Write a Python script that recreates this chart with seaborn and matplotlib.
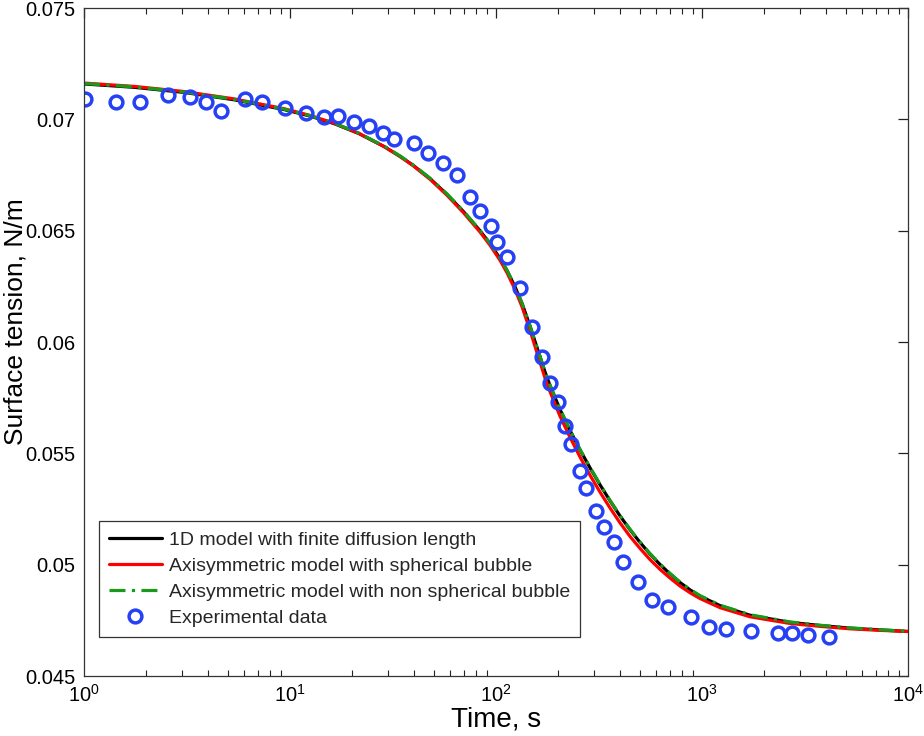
import numpy as np
import matplotlib
matplotlib.use("Agg")
import matplotlib.pyplot as plt
import seaborn as sns

# ---------------- Data ----------------
# model curves, time in s, surface tension in N/m
t_model = [1.000, 1.749, 3.058, 5.349, 9.352, 12.37, 16.35, 21.62, 28.60, 34.20,
           39.55, 47.82, 57.83, 69.16, 83.62, 93.51, 104.6, 113.1, 123.7, 133.8,
           146.2, 154.6, 163.6, 172.9, 182.9, 204.5, 228.7, 255.7, 286.0, 319.8,
           357.6, 399.9, 447.2, 500.1, 559.2, 625.4, 699.2, 782.0, 874.4, 977.9,
           1223, 1710, 2674, 3740, 5229, 7313, 10000]
st_1d = [0.07159, 0.07144, 0.07121, 0.07088, 0.07044, 0.07016, 0.06981, 0.06936, 0.06878, 0.06834,
         0.06794, 0.06734, 0.06663, 0.06588, 0.06500, 0.06442, 0.06375, 0.06321, 0.06248, 0.06173,
         0.06072, 0.06003, 0.05934, 0.05866, 0.05805, 0.05697, 0.05603, 0.05516, 0.05435, 0.05359,
         0.05287, 0.05219, 0.05157, 0.05100, 0.05048, 0.05001, 0.04959, 0.04920, 0.04887, 0.04859,
         0.04816, 0.04773, 0.04741, 0.04727, 0.04715, 0.04707, 0.04700]
st_sph = [0.07163, 0.07148, 0.07125, 0.07092, 0.07048, 0.07019, 0.06983, 0.06937, 0.06878, 0.06833,
          0.06792, 0.06731, 0.06659, 0.06583, 0.06494, 0.06435, 0.06367, 0.06311, 0.06236, 0.06158,
          0.06053, 0.05981, 0.05909, 0.05839, 0.05777, 0.05667, 0.05572, 0.05484, 0.05402, 0.05326,
          0.05255, 0.05188, 0.05127, 0.05073, 0.05023, 0.04979, 0.04940, 0.04904, 0.04874, 0.04848,
          0.04807, 0.04766, 0.04736, 0.04723, 0.04712, 0.04705, 0.04700]
st_nonsph = [0.07161, 0.07146, 0.07123, 0.07090, 0.07046, 0.07018, 0.06983, 0.06938, 0.06880, 0.06836,
             0.06796, 0.06736, 0.06665, 0.06590, 0.06502, 0.06444, 0.06377, 0.06322, 0.06249, 0.06174,
             0.06073, 0.06004, 0.05935, 0.05867, 0.05807, 0.05699, 0.05605, 0.05518, 0.05437, 0.05361,
             0.05289, 0.05221, 0.05159, 0.05102, 0.05050, 0.05003, 0.04961, 0.04922, 0.04889, 0.04861,
             0.04818, 0.04775, 0.04743, 0.04728, 0.04716, 0.04708, 0.04701]

# experimental points
t_exp = [1.01, 1.43, 1.87, 2.56, 3.27, 3.91, 4.62, 6.05, 7.31, 9.46,
         11.96, 14.62, 17.10, 20.45, 24.18, 28.28, 31.98, 40.0, 46.77, 55.3,
         64.7, 74.8, 83.6, 94.6, 101.1, 113.1, 130.8, 149.5, 167.3, 182.9,
         200.0, 216.3, 231.3, 255.7, 273.5, 305.8, 334.4, 374.0, 413.7, 489.1,
         571.9, 684.0, 884.5, 1081, 1308, 1729, 2338, 2735, 3270, 4136]
st_exp = [0.07092, 0.07078, 0.07078, 0.07110, 0.07101, 0.07078, 0.07038, 0.07092, 0.07078, 0.07051,
          0.07029, 0.07011, 0.07015, 0.06988, 0.06970, 0.06939, 0.06912, 0.06894, 0.06849, 0.06804,
          0.06751, 0.06652, 0.06589, 0.06522, 0.06450, 0.06383, 0.06243, 0.06068, 0.05934, 0.05817,
          0.05732, 0.05624, 0.05543, 0.05422, 0.05346, 0.05243, 0.05171, 0.05104, 0.05014, 0.04924,
          0.04843, 0.04812, 0.04767, 0.04722, 0.04713, 0.04704, 0.04695, 0.04695, 0.04682, 0.04673]

y_ticks = [0.045, 0.05, 0.055, 0.06, 0.065, 0.07, 0.075]
y_tick_labels = ["0.045", "0.05", "0.055", "0.06", "0.065", "0.07", "0.075"]
x_ticks = [1, 10, 100, 1000, 10000]
x_tick_labels = [r"$10^{0}$", r"$10^{1}$", r"$10^{2}$", r"$10^{3}$", r"$10^{4}$"]

# ---------------- Style ----------------
sns.set_theme(style="white")
plt.rcParams["font.family"] = ["Liberation Sans", "DejaVu Sans"]
plt.rcParams["mathtext.fontset"] = "custom"
plt.rcParams["mathtext.rm"] = "Liberation Sans"
plt.rcParams["mathtext.it"] = "Liberation Sans:italic"

fig = plt.figure(figsize=(9.24, 7.36), dpi=100)
ax = fig.add_axes([0.0909, 0.0815, 0.8918, 0.9076])

sns.lineplot(x=t_model, y=st_1d, ax=ax, color="black", lw=2.3,
             label="1D model with finite diffusion length", sort=False)
sns.lineplot(x=t_model, y=st_sph, ax=ax, color="#ff0000", lw=2.3,
             label="Axisymmetric model with spherical bubble", sort=False)
sns.lineplot(x=t_model, y=st_nonsph, ax=ax, color="#1a9a1a", lw=2.3,
             linestyle=(0, (5, 2, 1, 2)),
             label="Axisymmetric model with non spherical bubble", sort=False)
sns.lineplot(x=t_exp, y=st_exp, ax=ax, linestyle="none", marker="o",
             markersize=9.2, markerfacecolor="none", markeredgecolor="#2540f5",
             markeredgewidth=2.5, label="Experimental data", sort=False)

ax.set_xscale("log")
ax.set_xlim(1, 10000)
ax.set_ylim(0.045, 0.075)
ax.set_xticks(x_ticks)
ax.set_xticklabels(x_tick_labels)
ax.set_yticks(y_ticks)
ax.set_yticklabels(y_tick_labels)

ax.tick_params(axis="both", which="major", direction="in", length=7, width=0.9,
               top=True, right=True, labelsize=14.5, colors="#222222", pad=6)
ax.tick_params(axis="x", which="minor", direction="in", length=4, width=0.8,
               top=True, bottom=True, color="#222222")
ax.tick_params(axis="y", which="minor", left=False, right=False)
for lbl in ax.get_xticklabels() + ax.get_yticklabels():
    lbl.set_color("black")

for s in ax.spines.values():
    s.set_color("#333333")
    s.set_linewidth(0.9)

ax.set_xlabel("Time, s", fontsize=20, color="black", labelpad=0)
ax.set_ylabel("Surface tension, N/m", fontsize=19, color="black")
ax.yaxis.set_label_coords(-0.0685, 0.531)

leg = ax.legend(loc="lower left", bbox_to_anchor=(0.0182, 0.0584), fontsize=14,
                frameon=True, fancybox=False, framealpha=1, edgecolor="#333333",
                handlelength=2.75, handletextpad=0.35, borderpad=0.5,
                labelspacing=0.44, borderaxespad=0)
leg.get_frame().set_linewidth(0.9)

fig.savefig("out.png", dpi=100)
